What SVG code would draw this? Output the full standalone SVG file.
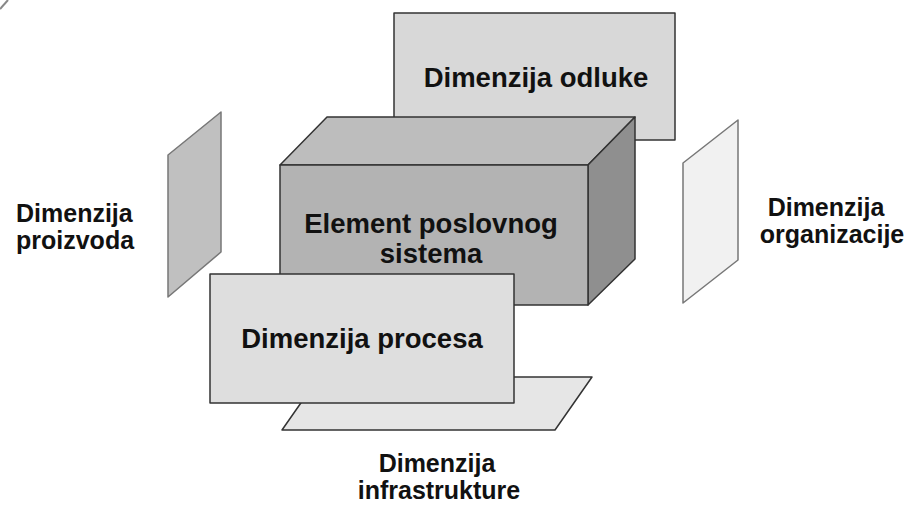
<svg xmlns="http://www.w3.org/2000/svg" width="915" height="507" viewBox="0 0 915 507">
<style>
.lbl{font-family:"Liberation Sans",Arial,sans-serif;font-weight:bold;font-size:25px;fill:#111;text-anchor:middle}
.big{font-size:27.5px}
.box{stroke:#333;stroke-width:1.5;stroke-linejoin:round}
.pane{stroke:#777;stroke-width:1.5;stroke-linejoin:round}
</style>
<rect width="915" height="507" fill="#fff"/>
<line x1="8" y1="0" x2="0" y2="9" stroke="#888" stroke-width="2"/>
<g id="odluke">
<rect class="box" x="394" y="13" width="281" height="127" fill="#d8d8d8"/>
<text class="lbl big" x="536" y="87">Dimenzija odluke</text>
</g>
<g id="proizvoda">
<polygon class="pane" points="221,112 221,252 168,297 168,155" fill="#c0c0c0"/>
<text class="lbl" x="16" y="222" style="text-anchor:start">Dimenzija</text>
<text class="lbl" x="16" y="249" style="text-anchor:start">proizvoda</text>
</g>
<g id="organizacije">
<polygon class="pane" points="738,120 738,260 683,303 683,163" fill="#f1f1f1"/>
<text class="lbl" x="826" y="216">Dimenzija</text>
<text class="lbl" x="832" y="243">organizacije</text>
</g>
<g id="infrastrukture">
<polygon class="box" points="319,377 592,377 555,430 282,430" fill="#e6e6e6"/>
<text class="lbl" x="437" y="472">Dimenzija</text>
<text class="lbl" x="439" y="499">infrastrukture</text>
</g>
<g id="element">
<polygon class="box" points="280,165 327,117 635,117 588,165" fill="#bdbdbd"/>
<polygon class="box" points="588,165 635,117 635,259 588,305" fill="#8f8f8f"/>
<rect class="box" x="280" y="165" width="308" height="140" fill="#b3b3b3"/>
<text class="lbl big" x="431" y="233">Element poslovnog</text>
<text class="lbl big" x="431" y="263">sistema</text>
</g>
<g id="procesa">
<rect class="box" x="210" y="274" width="304" height="129" fill="#dedede"/>
<text class="lbl big" x="362" y="348">Dimenzija procesa</text>
</g>
<g id="connectors"></g>
</svg>
